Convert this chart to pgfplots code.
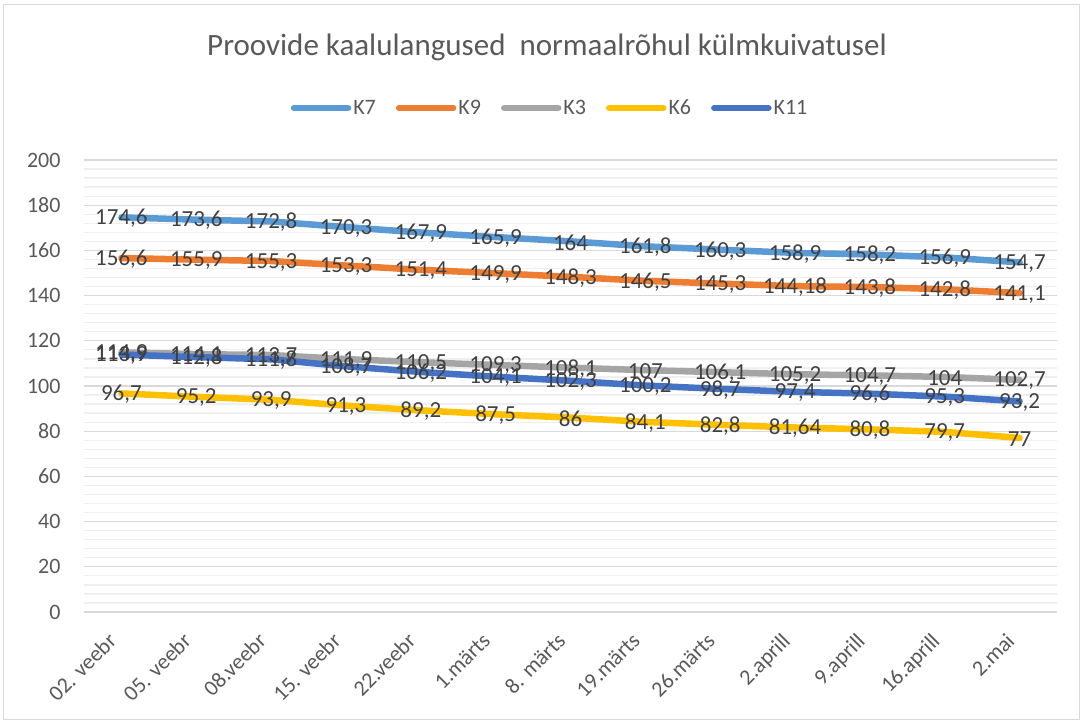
\documentclass[border=0pt]{standalone}
\usepackage{pgfplots}
\pgfplotsset{compat=1.18}
\usepackage{pgfplotstable}
\usepackage{fontspec}
\setmainfont{Carlito}
\definecolor{cK7}{HTML}{5B9BD5}
\definecolor{cK9}{HTML}{ED7D31}
\definecolor{cK3}{HTML}{A5A5A5}
\definecolor{cK6}{HTML}{FFC000}
\definecolor{cK11}{HTML}{4472C4}
\definecolor{lbl}{HTML}{404040}
\definecolor{tck}{HTML}{595959}
\definecolor{gmaj}{HTML}{D9D9D9}
\definecolor{gmin}{HTML}{EFEFEF}

\pgfplotstableread{
x y l
0 174.6 174,6
1 173.6 173,6
2 172.8 172,8
3 170.3 170,3
4 167.9 167,9
5 165.9 165,9
6 164 164
7 161.8 161,8
8 160.3 160,3
9 158.9 158,9
10 158.2 158,2
11 156.9 156,9
12 154.7 154,7
}\dK
\pgfplotstableread{
x y l
0 156.6 156,6
1 155.9 155,9
2 155.3 155,3
3 153.3 153,3
4 151.4 151,4
5 149.9 149,9
6 148.3 148,3
7 146.5 146,5
8 145.3 145,3
9 144.18 144,18
10 143.8 143,8
11 142.8 142,8
12 141.1 141,1
}\dNine
\pgfplotstableread{
x y l
0 114.9 114,9
1 114.1 114,1
2 113.7 113,7
3 111.9 111,9
4 110.5 110,5
5 109.3 109,3
6 108.1 108,1
7 107 107
8 106.1 106,1
9 105.2 105,2
10 104.7 104,7
11 104 104
12 102.7 102,7
}\dThree
\pgfplotstableread{
x y l
0 96.7 96,7
1 95.2 95,2
2 93.9 93,9
3 91.3 91,3
4 89.2 89,2
5 87.5 87,5
6 86 86
7 84.1 84,1
8 82.8 82,8
9 81.64 81,64
10 80.8 80,8
11 79.7 79,7
12 77 77
}\dSix
\pgfplotstableread{
x y l
0 113.9 113,9
1 112.8 112,8
2 111.8 111,8
3 108.7 108,7
4 106.2 106,2
5 104.1 104,1
6 102.3 102,3
7 100.2 100,2
8 98.7 98,7
9 97.4 97,4
10 96.6 96,6
11 95.3 95,3
12 93.2 93,2
}\dEleven

\begin{document}
\begin{tikzpicture}[x=1pt,y=1pt]
\begin{axis}[
  scale only axis,
  width=973pt, height=452pt,
  xmin=-0.5, xmax=12.5,
  ymin=0, ymax=200,
  ytick={0,20,...,200},
  minor y tick num=4,
  ymajorgrids, yminorgrids,
  major grid style={draw=gmaj, line width=1.3pt},
  minor grid style={draw=gmin, line width=1.3pt},
  axis line style={draw=none},
  major tick length=0pt, minor tick length=0pt,
  xtick={0,...,12},
  xticklabels={02. veebr,05. veebr,08.veebr,15. veebr,22.veebr,1.märts,8. märts,19.märts,26.märts,2.aprill,9.aprill,16.aprill,2.mai},
  x tick label style={rotate=45, anchor=north east, font=\fontsize{22}{26}\selectfont, text=tck, inner sep=1pt, xshift=-23pt, yshift=-2.5pt},
  y tick label style={font=\fontsize{22}{26}\selectfont, text=tck, xshift=-20pt},
  /pgf/number format/assume math mode=true,
  legend columns=5,
  legend style={draw=none, fill=none, at={(0.479,1.115)}, anchor=center,
    font=\fontsize{22}{26}\selectfont, text=tck,
    /tikz/every even column/.append style={column sep=18pt}},
  legend image code/.code={\draw[#1, line cap=round] (0pt,0pt) -- (54pt,0pt);},
  clip=false,
]
\pgfplotsset{ln/.style={line width=6.5pt, line cap=round, line join=round, mark=none}}
\addplot[ln, cK7] table[x=x,y=y] {\dK}; \addlegendentry{K7}
\addplot[ln, cK9] table[x=x,y=y] {\dNine}; \addlegendentry{K9}
\addplot[ln, cK3] table[x=x,y=y] {\dThree}; \addlegendentry{K3}
\addplot[ln, cK6] table[x=x,y=y] {\dSix}; \addlegendentry{K6}
\addplot[ln, cK11] table[x=x,y=y] {\dEleven}; \addlegendentry{K11}
\pgfplotsset{lbls/.style={draw=none, mark=none, forget plot, point meta=explicit symbolic, nodes near coords,
  every node near coord/.append style={anchor=center, text=lbl, font=\fontsize{23}{26}\selectfont, inner sep=0pt, yshift=-1pt}}}
\addplot[lbls] table[x=x,y=y,meta=l] {\dK};
\addplot[lbls] table[x=x,y=y,meta=l] {\dNine};
\addplot[lbls] table[x=x,y=y,meta=l] {\dThree};
\addplot[lbls] table[x=x,y=y,meta=l] {\dSix};
\addplot[lbls] table[x=x,y=y,meta=l] {\dEleven};
\end{axis}
\node[font=\fontsize{31}{36}\selectfont, text=tck] at (463pt,565pt) {Proovide kaalulangused\ \ normaalrõhul külmkuivatusel};
\draw[gmaj, line width=1pt] (-80pt,-108pt) rectangle (995pt,607pt);
\path[use as bounding box] (-84pt,-113pt) rectangle (1001pt,612pt);
\end{tikzpicture}
\end{document}
